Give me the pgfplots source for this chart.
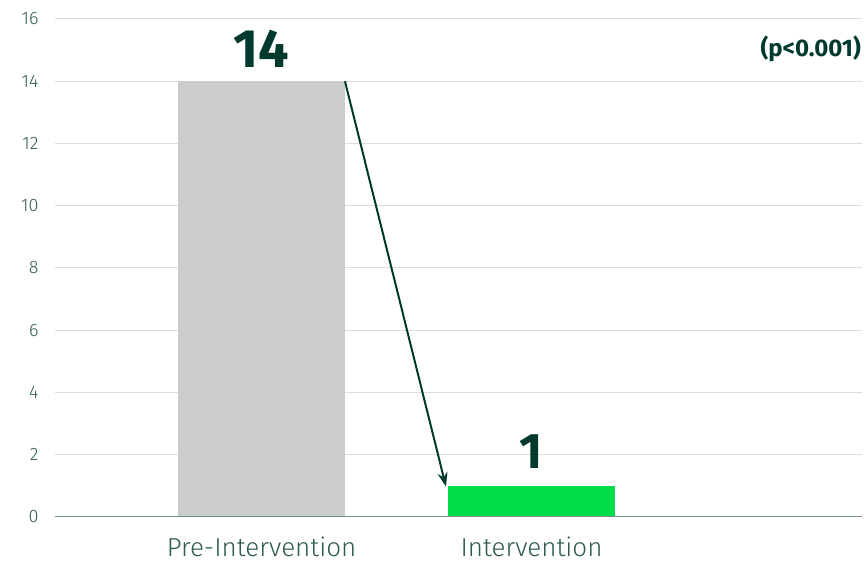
\documentclass[border=0pt]{standalone}
\usepackage{fontspec}
\setmainfont{Fira Sans}[UprightFont=* Light, BoldFont=* Bold]
\usepackage{pgfplots}
\pgfplotsset{compat=1.18}
\usetikzlibrary{arrows.meta}
\definecolor{dk}{HTML}{003A2E}
\definecolor{tk}{HTML}{2F5A50}
\definecolor{gr}{HTML}{00DD4A}
\definecolor{gy}{HTML}{CCCCCC}
\definecolor{grid}{HTML}{DDDDDD}
\definecolor{base}{HTML}{7A9090}
\begin{document}
\begin{tikzpicture}
\begin{axis}[
  scale only axis, width=807pt, height=498pt,
  xmin=-0.765, xmax=2.224, ymin=0, ymax=16,
  ytick={0,2,...,16}, xtick={0,1}, xticklabels={Pre-Intervention,Intervention},
  major tick length=0pt,
  axis line style={draw=none},
  xmajorgrids=false, ymajorgrids=true,
  y grid style={grid, line width=1pt},
  /pgf/number format/assume math mode=true,
  yticklabel style={font=\fontsize{18}{20}\selectfont, text=tk, anchor=east, xshift=-13pt},
  xticklabel style={font=\fontsize{26}{28}\selectfont, text=tk, anchor=north, inner sep=0pt, yshift=-20pt},
  ybar, bar width=167pt,
]
\addplot[fill=gy, draw=none, bar shift=0pt] coordinates {(0,14)};
\addplot[fill=gr, draw=none, bar shift=0pt] coordinates {(1,1)};
\draw[base, line width=1.3pt] (rel axis cs:0,0) -- (rel axis cs:1,0);
\addplot[sharp plot, dk, line width=2pt, -{Stealth[length=14pt, width=10pt]}, forget plot] coordinates {(0.309,14) (0.683,0.98)};
\node[text=dk, font=\bfseries\fontsize{54}{56}\selectfont] at (axis cs:0,15.05) {14};
\node[text=dk, font=\bfseries\fontsize{50}{52}\selectfont] at (axis cs:1,2.1) {1};
\node[text=dk, font=\bfseries\fontsize{24}{26}\selectfont, anchor=east, inner sep=1pt] at (axis cs:2.224,15.05) {(p<0.001)};
\end{axis}
\useasboundingbox (current axis.south west) ++(-55pt,-46pt) rectangle ([shift={(3pt,19pt)}]current axis.north east);
\end{tikzpicture}
\end{document}
